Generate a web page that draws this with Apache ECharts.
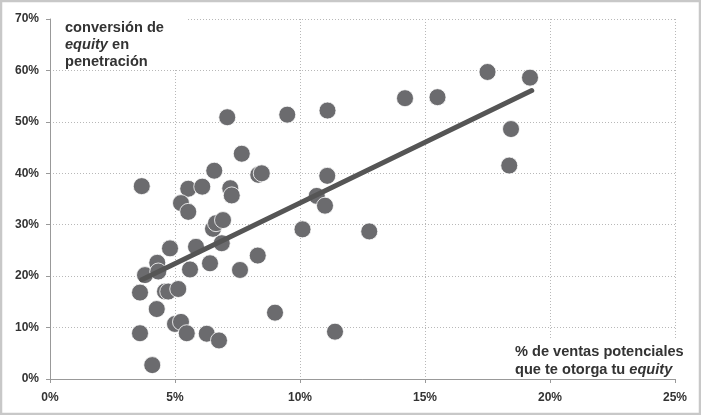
<!DOCTYPE html>
<html>
<head>
<meta charset="utf-8">
<script src="https://cdn.jsdelivr.net/npm/echarts@6/dist/echarts.min.js"></script>
<style>
html,body{margin:0;padding:0;background:#fff;}
#c{width:701px;height:415px;}
</style>
</head>
<body>
<div id="c"></div>
<script>
// x: % de ventas potenciales, y: conversión en penetración (%)
const xValues = [3.67,7.67,6.57,8.33,8.47,5.53,6.09,7.21,7.27,5.24,5.53,6.52,6.64,6.92,6.87,5.84,4.80,8.31,4.29,6.40,3.80,4.33,5.60,7.60,3.60,4.60,4.73,5.13,4.27,5.00,5.24,3.60,5.47,6.27,6.76,4.09,9.00,9.49,11.10,11.09,10.67,11.00,10.10,12.77,11.40,14.20,15.50,17.50,19.20,18.44,18.37,7.09];
const yValues = [37.5,43.8,40.5,39.7,40.0,37.0,37.4,37.1,35.7,34.2,32.5,29.2,30.3,30.9,26.4,25.7,25.4,24.0,22.6,22.5,20.2,20.9,21.3,21.2,16.8,17.0,17.0,17.5,13.6,10.7,11.1,8.9,8.9,8.8,7.5,2.7,12.9,51.4,52.2,39.5,35.6,33.7,29.1,28.7,9.2,54.6,54.8,59.7,58.6,48.6,41.5,50.9];
const trendX = [3.67, 19.27];
const trendY = [19.3, 56.1];
const xTicks = [0,5,10,15,20,25];
const yTicks = [0,10,20,30,40,50,60,70];

const points = xValues.map((x,i)=>[x,yValues[i]]);
const trend = trendX.map((x,i)=>[x,trendY[i]]);

const chart = echarts.init(document.getElementById('c'), null, {renderer:'canvas'});
const labelFont = {color:'#333', fontFamily:'Liberation Sans, Arial, sans-serif', fontWeight:'bold', fontSize:12};
const FF = 'Liberation Sans, Arial, sans-serif';
chart.setOption({
  animation:false,
  backgroundColor:'#fff',
  grid:{left:50,right:26,top:19,bottom:36,containLabel:false},
  xAxis:{
    type:'value', min:xTicks[0], max:xTicks[xTicks.length-1], interval:5,
    axisLine:{show:true,lineStyle:{color:'#999',width:1}},
    axisTick:{show:true,length:4,lineStyle:{color:'#999'}},
    axisLabel:Object.assign({margin:13,formatter:'{value}%'},labelFont),
    splitLine:{show:true,lineStyle:{color:'#b8b8b8',type:[1,2],width:1}}
  },
  yAxis:{
    type:'value', min:yTicks[0], max:yTicks[yTicks.length-1], interval:10,
    axisLine:{show:true,lineStyle:{color:'#999',width:1}},
    axisTick:{show:true,length:4,lineStyle:{color:'#999'}},
    axisLabel:Object.assign({margin:11,formatter:'{value}%'},labelFont),
    splitLine:{show:true,lineStyle:{color:'#b8b8b8',type:[1,2],width:1}}
  },
  series:[
    {type:'scatter',data:points,symbolSize:17,
     itemStyle:{color:'#6b6b6e',borderColor:'#fff',borderWidth:0.8,opacity:1},z:2},
    {type:'line',data:trend,symbol:'none',
     lineStyle:{color:'#555',width:5,cap:'round'},z:3}
  ],
  graphic:[
    {type:'rect',z:100,shape:{x:51,y:12,width:136,height:58},style:{fill:'#fff'}},
    {type:'text',z:101,x:65,y:19,style:{
      text:'{b|conversión de}\n{i|equity}{b| en}\n{b|penetración}',
      rich:{
        b:{fontFamily:FF,fontWeight:'bold',fontSize:14.6,fill:'#333',lineHeight:17.3},
        i:{fontFamily:FF,fontWeight:'bold',fontStyle:'italic',fontSize:14.6,fill:'#333',lineHeight:17.3}
      }
    }},
    {type:'rect',z:100,shape:{x:510,y:339,width:178,height:38},style:{fill:'#fff'}},
    {type:'text',z:101,x:515,y:343,style:{
      text:'{b|% de ventas potenciales}\n{b|que te otorga tu }{i|equity}',
      rich:{
        b:{fontFamily:FF,fontWeight:'bold',fontSize:14.6,fill:'#333',lineHeight:18},
        i:{fontFamily:FF,fontWeight:'bold',fontStyle:'italic',fontSize:14.6,fill:'#333',lineHeight:18}
      }
    }},
    {type:'rect',z:200,shape:{x:1,y:1,width:699,height:413},style:{fill:'none',stroke:'#c8c8c8',lineWidth:2.5}}
  ]
});
</script>
</body>
</html>
